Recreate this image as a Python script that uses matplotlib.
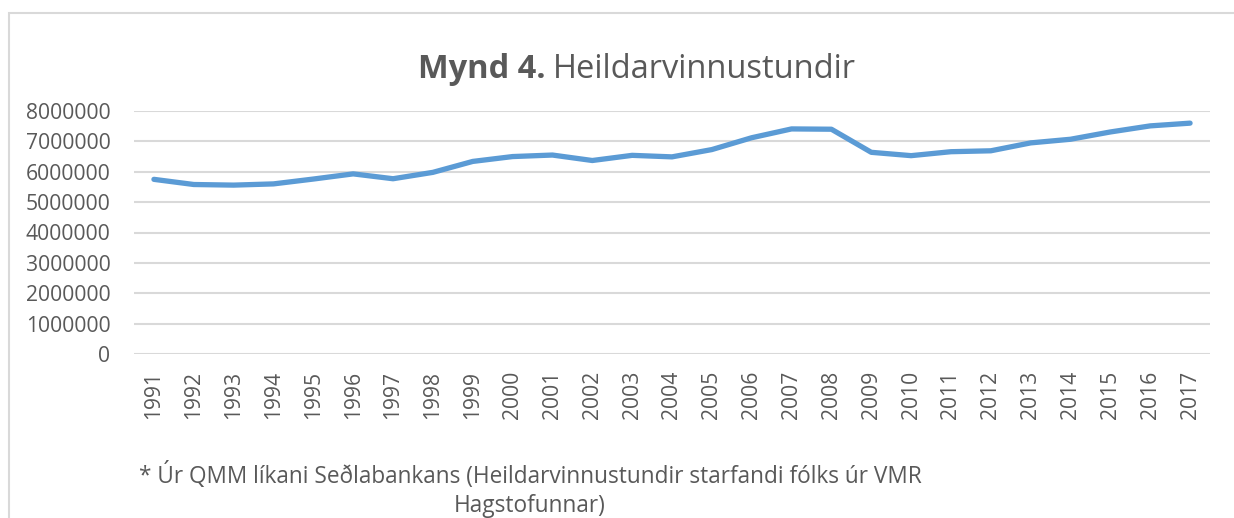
import matplotlib.pyplot as plt
from matplotlib.patches import Rectangle

years = [str(y) for y in range(1991, 2018)]
hours = [5750000, 5580000, 5560000, 5600000, 5760000, 5930000, 5770000, 5980000,
         6340000, 6500000, 6550000, 6370000, 6540000, 6490000, 6730000, 7120000,
         7410000, 7400000, 6640000, 6530000, 6660000, 6690000, 6950000, 7070000,
         7310000, 7510000, 7600000]
yticks = list(range(0, 8000001, 1000000))

plt.rcParams['font.family'] = ['Open Sans', 'DejaVu Sans']
grey = '#595959'

fig = plt.figure(figsize=(12.34, 5.18), dpi=100)
ax = fig.add_axes([134 / 1234, 1 - 354 / 518, (1210 - 134) / 1234, (354 - 111) / 518])

# chart border (cut off at right and bottom like the original)
fig.patches.append(Rectangle((9 / 1234, -0.1), 1.2, 1.1 - 13 / 518, transform=fig.transFigure,
                             fill=False, edgecolor='#D9D9D9', linewidth=1.5))

x = range(len(years))
ax.plot(x, hours, color='#5B9BD5', linewidth=3.8, solid_capstyle='round', solid_joinstyle='round')

ax.set_xlim(-0.5, len(years) - 0.5)
ax.set_ylim(0, 8000000)
ax.set_yticks(yticks)
ax.set_yticklabels([str(v) for v in yticks])
ax.set_xticks(list(x))
ax.set_xticklabels(years, rotation=90)
ax.tick_params(length=0, labelsize=15.2, labelcolor=grey)
ax.tick_params(axis='y', pad=17)
ax.tick_params(axis='x', pad=12)
ax.grid(axis='y', color='#D9D9D9', linewidth=1.5)
ax.set_axisbelow(True)
for s in ax.spines.values():
    s.set_visible(False)

fig.text(546 / 1234, 1 - 70 / 518, 'Mynd 4.', fontsize=23.5, fontweight='bold',
         color=grey, ha='right', va='center')
fig.text(553 / 1234, 1 - 70 / 518, 'Heildarvinnustundir', fontsize=23.5,
         color=grey, ha='left', va='center')

fig.text(530 / 1234, 1 - 490 / 518,
         '* Úr QMM líkani Seðlabankans (Heildarvinnustundir starfandi fólks úr VMR\nHagstofunnar)',
         fontsize=16.3, color=grey, ha='center', va='center', multialignment='center',
         linespacing=1.25)

fig.savefig('out.png', dpi=100)
